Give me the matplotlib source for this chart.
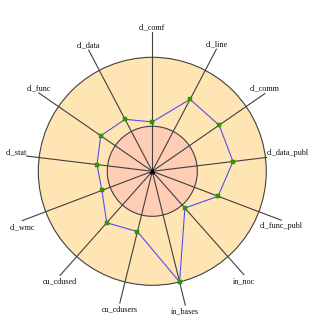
import numpy as np
import matplotlib.pyplot as plt
from matplotlib.patches import Circle

# kiviat chart: 13 metrics, values as a fraction of the outer (max) circle
metrics = ['cl_comf', 'cl_line', 'cl_comm', 'cl_data_publ', 'cl_func_publ',
           'in_noc', 'in_bases', 'cu_cdusers', 'cu_cdused', 'cl_wmc',
           'cl_stat', 'cl_func', 'cl_data']
values = [0.433, 0.713, 0.712, 0.713, 0.617, 0.431, 1.0,
          0.545, 0.603, 0.473, 0.489, 0.549, 0.515]
inner_limit = 0.395   # lower limit circle
outer_limit = 1.0     # upper limit circle

# how far each spoke reaches out to its label
spoke_len = [1.22, 1.21, 1.20, 1.01, 1.21, 1.21, 1.21,
             1.19, 1.22, 1.22, 1.11, 1.21, 1.20]

W, H = 327, 331
cx, cy, R = 152.3, 171.3, 114.0   # centre and outer radius in pixels

fig = plt.figure(figsize=(W / 100, H / 100), dpi=100)
ax = fig.add_axes([0, 0, 1, 1])
ax.set_xlim(-cx / R, (W - cx) / R)
ax.set_ylim(-(H - cy) / R, cy / R)
ax.axis('off')

edge = '#404040'
ax.add_patch(Circle((0, 0), outer_limit, facecolor='#FFE5B4', edgecolor=edge, lw=0.8, zorder=1))
ax.add_patch(Circle((0, 0), inner_limit, facecolor='#FFCCB4', edgecolor=edge, lw=0.8, zorder=2))

n = len(metrics)
ang = np.pi / 2 - 2 * np.pi * np.arange(n) / n   # clockwise from the top

for i, name in enumerate(metrics):
    a = ang[i]
    L = spoke_len[i]
    x, y = L * np.cos(a), L * np.sin(a)
    ax.plot([0, x], [0, y], color=edge, lw=0.8, zorder=3)
    if name == 'cl_data_publ':
        ha, va, dy = 'left', 'bottom', 0.0
    elif name == 'cl_stat':
        ha, va, dy = 'right', 'bottom', 0.0
    elif y >= 0:
        ha, va, dy = 'center', 'bottom', 0.01
    else:
        ha, va, dy = 'center', 'top', -0.02
    ax.text(x, y + dy, name, ha=ha, va=va, fontsize=5.9,
            family='Liberation Serif', color='#111111', zorder=5)

vx = np.array(values) * np.cos(ang)
vy = np.array(values) * np.sin(ang)
ax.plot(np.append(vx, vx[0]), np.append(vy, vy[0]), color='#5050F0', lw=0.8, zorder=4)
ax.plot(vx, vy, 's', ms=3.2, color='#339900', mec='#2A8000', mew=0.3, zorder=5)
ax.plot(0, 0, '^', ms=3, color='black', zorder=6)

fig.savefig('out.png', dpi=100)
